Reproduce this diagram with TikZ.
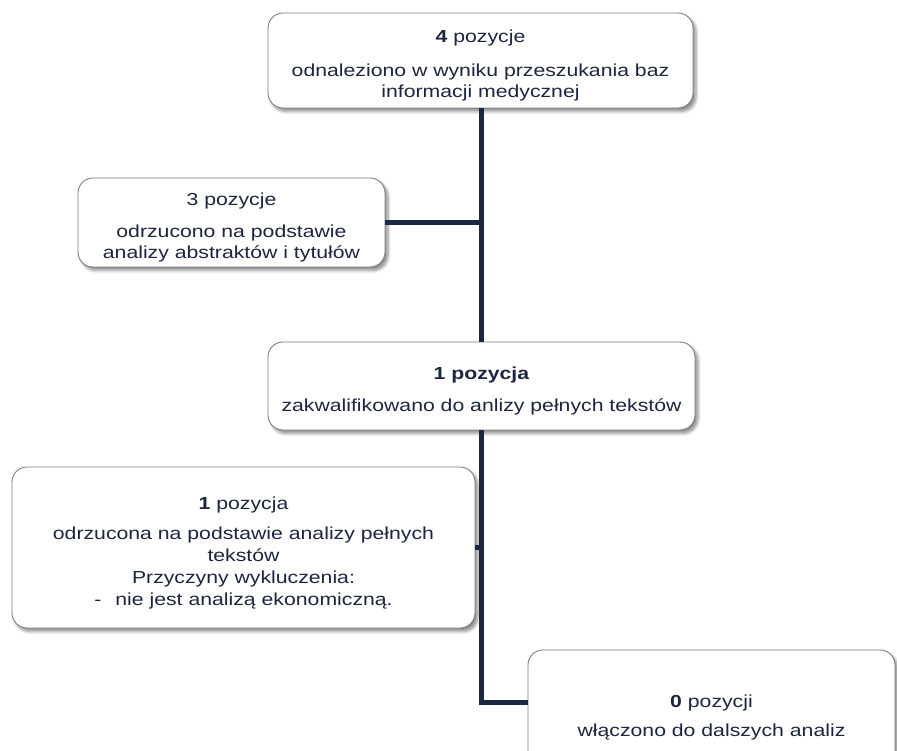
\documentclass[tikz,border=0pt]{standalone}
\usepackage{fontspec}
\setmainfont[FakeStretch=1.22]{Liberation Sans}
\usepackage{xcolor}
\usepackage{tikz}
\usetikzlibrary{positioning,shadows.blur}

\definecolor{navytext}{RGB}{28,38,64}
\definecolor{navyline}{RGB}{27,38,66}
\definecolor{boxborder}{RGB}{125,125,125}

\newcommand{\recstrut}{\rule{0pt}{23pt}}

\tikzset{
  recbox/.style={draw=boxborder, line width=0.9pt, fill=white, rounded corners=15pt,
    align=center, text=navytext, inner sep=0pt,
    font=\fontsize{17.4}{21.7}\selectfont,
    blur shadow={shadow xshift=3pt, shadow yshift=-3.5pt, shadow blur steps=6, shadow blur radius=3pt, shadow opacity=45}},
  flowline/.style={navyline, line width=5pt}
}

\begin{document}
\begin{tikzpicture}[x=1pt, y=-1pt]
    \useasboundingbox (0,0) rectangle (897,751);

    \coordinate (FOUNDC) at (480.5, 60.5);
    \coordinate (ABSREJC) at (231.5, 222.5);
    \coordinate (FULLC) at (481.5, 386);
    \coordinate (FULLREJC) at (243.5, 547.5);
    \coordinate (INCLC) at (711.5, 712);
    \coordinate (BEND) at (481.5, 702);

    \node [recbox, minimum width=425pt, minimum height=95pt] (FOUND) at (FOUNDC)
      {\recstrut\textbf{4} pozycje\\[12pt]odnaleziono w wyniku przeszukania baz\\informacji medycznej};
    \node [recbox, minimum width=307pt, minimum height=89pt] (ABSREJ) at (ABSREJC)
      {\recstrut 3 pozycje\\[10pt]odrzucono na podstawie\\analizy abstraktów i tytułów};
    \node [recbox, minimum width=427pt, minimum height=88pt] (FULL) at (FULLC)
      {\recstrut\textbf{1 pozycja}\\[10pt]zakwalifikowano do anlizy pełnych tekstów};
    \node [recbox, minimum width=463pt, minimum height=161pt] (FULLREJ) at (FULLREJC)
      {\recstrut\textbf{1} pozycja\\[9pt]odrzucona na podstawie analizy pełnych\\tekstów\\Przyczyny wykluczenia:\\-\hspace{14pt}nie jest analizą ekonomiczną.};
    \node [recbox, minimum width=367pt, minimum height=124pt] (INCL) at (INCLC)
      {\recstrut\textbf{0} pozycji\\[7pt]włączono do dalszych analiz};

    \draw [flowline] (FOUND.south -| BEND) to (FULL.north -| BEND);
    \draw [flowline] (ABSREJ.east) to (ABSREJ.east -| BEND);
    \draw [flowline] (FULL.south -| BEND) to (BEND) to (BEND -| INCL.west);
    \draw [flowline] (FULLREJ.east) to (FULLREJ.east -| BEND);
\end{tikzpicture}
\end{document}
